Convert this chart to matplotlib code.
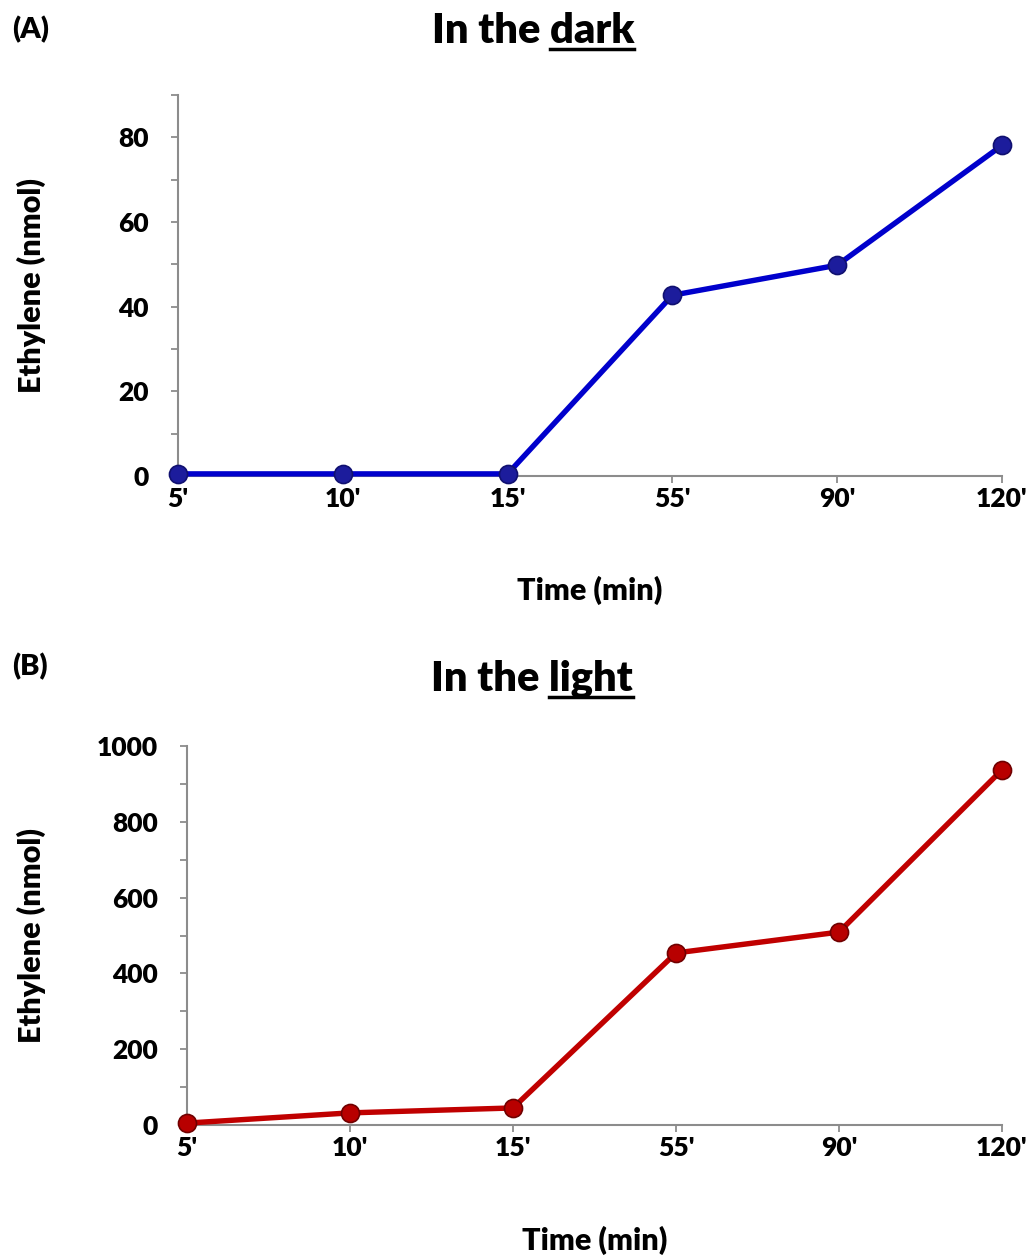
import matplotlib
matplotlib.use("Agg")
import matplotlib.pyplot as plt
from matplotlib.ticker import MultipleLocator
from matplotlib.lines import Line2D

plt.rcParams['font.family'] = ['Lato', 'DejaVu Sans']

times = ["5'", "10'", "15'", "55'", "90'", "120'"]
dark_values = [0.5, 0.5, 0.5, 42.7, 49.8, 78.1]
light_values = [5, 32, 45, 454, 509, 937]

FIG_W, FIG_H = 1033, 1257
fig = plt.figure(figsize=(FIG_W / 100, FIG_H / 100), dpi=100)

spine_col = '#8c8c8c'
W = 'heavy'

def make_panel(rect, values, ymax, major, minor, line_col, mk_col, mk_edge,
               ylabel_x, xlabel_y):
    ax = fig.add_axes(rect)
    x = list(range(len(times)))
    ax.plot(x, values, color=line_col, lw=3.9, marker='o', ms=13,
            mfc=mk_col, mec=mk_edge, mew=1.2, zorder=3, clip_on=False)
    ax.set_xlim(0, len(times) - 1)
    ax.set_ylim(0, ymax)
    ax.set_xticks(x)
    ax.set_xticklabels(times)
    ax.yaxis.set_major_locator(MultipleLocator(major))
    ax.yaxis.set_minor_locator(MultipleLocator(minor))
    for s in ['top', 'right']:
        ax.spines[s].set_visible(False)
    for s in ['left', 'bottom']:
        ax.spines[s].set_color(spine_col)
        ax.spines[s].set_linewidth(1.5)
    ax.tick_params(axis='y', which='both', direction='out', length=5, width=1.3,
                   color=spine_col, labelsize=19, pad=16)
    ax.tick_params(axis='x', which='both', direction='out', length=5, width=1.3,
                   color=spine_col, labelsize=19, pad=3)
    for lab in ax.get_xticklabels() + ax.get_yticklabels():
        lab.set_fontweight(W)
    ax.set_xlabel('Time (min)', fontsize=22, fontweight=W, va='center')
    ax.xaxis.set_label_coords(0.5, xlabel_y)
    ax.set_ylabel('Ethylene (nmol)', fontsize=22, fontweight=W)
    ax.yaxis.set_label_coords(ylabel_x, 0.5)
    return ax

ax1 = make_panel([178 / FIG_W, 1 - 476 / FIG_H, (1002 - 178) / FIG_W, (476 - 95) / FIG_H],
                 dark_values, 90, 20, 10, '#0000cc', '#1c1c9c', '#101070',
                 (46 - 178) / (1002 - 178), -(590 - 476) / (476 - 95))
ax2 = make_panel([187 / FIG_W, 1 - 1125 / FIG_H, (1002 - 187) / FIG_W, (1125 - 746) / FIG_H],
                 light_values, 1000, 200, 100, '#c00000', '#b80000', '#700000',
                 (46 - 187) / (1002 - 187), -(1240 - 1125) / (1125 - 746))

fig.text(12 / FIG_W, 1 - 30 / FIG_H, '(A)', fontsize=21, fontweight=W, va='center', ha='left')
fig.text(12 / FIG_W, 1 - 667 / FIG_H, '(B)', fontsize=21, fontweight=W, va='center', ha='left')

fig.canvas.draw()
renderer = fig.canvas.get_renderer()

def underlined_title(prefix, word, cx, cy_px):
    t = fig.text(cx / FIG_W, 1 - cy_px / FIG_H, prefix + word, fontsize=30,
                 fontweight=W, ha='center', va='center')
    fig.canvas.draw()
    bb = t.get_window_extent(renderer)
    w = fig.text(0, 0, word, fontsize=30, fontweight=W, alpha=0)
    fig.canvas.draw()
    wb = w.get_window_extent(renderer)
    w.remove()
    x1 = bb.x1
    x0 = x1 - wb.width
    y = bb.y0 + 1
    fig.add_artist(Line2D([x0 / FIG_W, x1 / FIG_W], [y / FIG_H, y / FIG_H],
                          transform=fig.transFigure, color='black', lw=2.5))

underlined_title('In the ', 'dark', 533, 31)
underlined_title('In the ', 'light', 532, 679)

fig.savefig('out.png', dpi=100)
